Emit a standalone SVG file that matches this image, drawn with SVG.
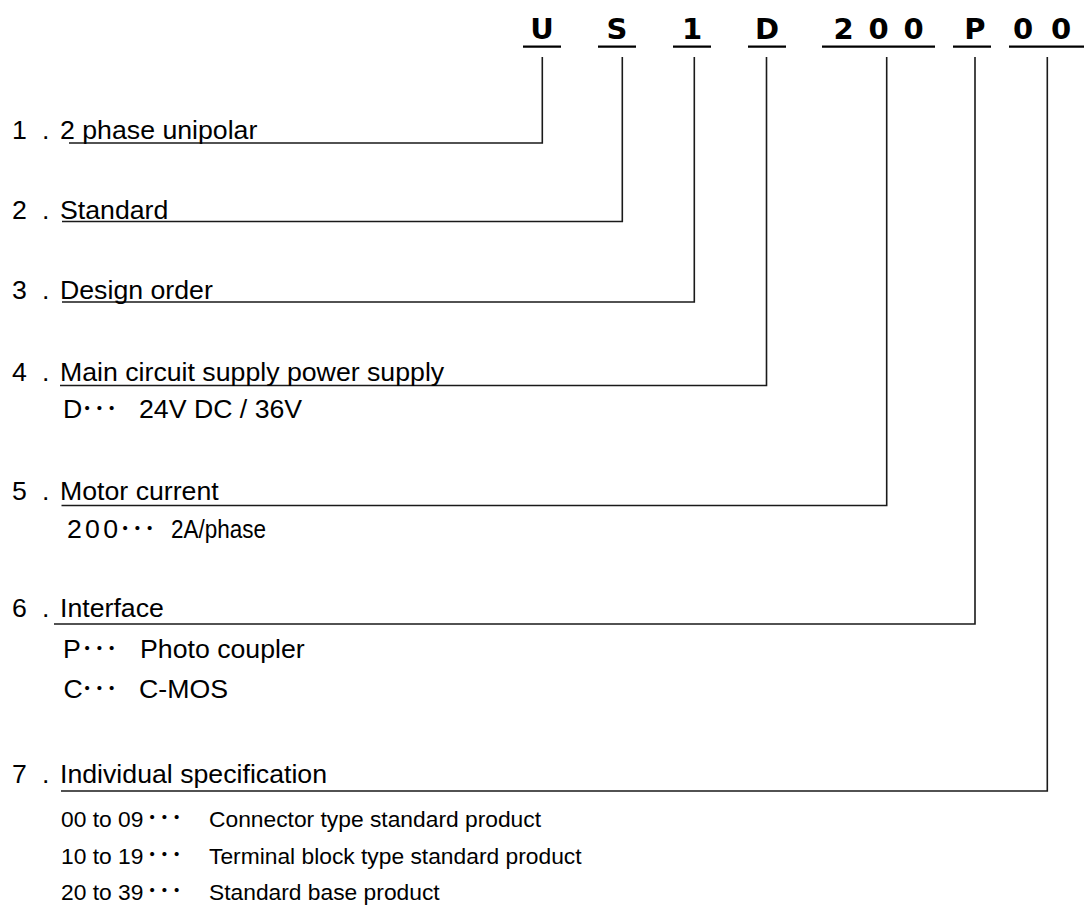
<svg xmlns="http://www.w3.org/2000/svg" width="1084" height="905" viewBox="0 0 1084 905">
<style>
.code{font-family:"DejaVu Sans",sans-serif;font-weight:bold;font-size:29px;fill:#000;text-anchor:middle}
.t{font-family:"Liberation Sans",Arial,sans-serif;font-size:26.7px;fill:#000}
.s{font-family:"Liberation Sans",Arial,sans-serif;font-size:22.8px;fill:#000}
.dots{font-family:"Noto Sans CJK JP",sans-serif;font-size:24.6px;fill:#000}
.ul{stroke:#000;stroke-width:2.2;fill:none}
.ln{stroke:#1a1a1a;stroke-width:1.6;fill:none}
</style>
<rect width="1084" height="905" fill="#fff"/>
<g id="code">
<text class="code" x="542" y="38.5">U</text>
<text class="code" x="617" y="38.5">S</text>
<text class="code" x="692" y="38.5">1</text>
<text class="code" x="767" y="38.5">D</text>
<text class="code" x="843.5" y="38.5">2</text>
<text class="code" x="878.5" y="38.5">0</text>
<text class="code" x="913.5" y="38.5">0</text>
<text class="code" x="975" y="38.5">P</text>
<text class="code" x="1023" y="38.5">0</text>
<text class="code" x="1061" y="38.5">0</text>
<line class="ul" x1="523" y1="46.7" x2="561" y2="46.7"/>
<line class="ul" x1="598" y1="46.7" x2="636" y2="46.7"/>
<line class="ul" x1="673" y1="46.7" x2="711" y2="46.7"/>
<line class="ul" x1="748" y1="46.7" x2="786" y2="46.7"/>
<line class="ul" x1="822" y1="46.7" x2="935" y2="46.7"/>
<line class="ul" x1="953" y1="46.7" x2="991" y2="46.7"/>
<line class="ul" x1="1009" y1="46.7" x2="1084" y2="46.7"/>
</g>
<g id="connectors">
<path class="ln" d="M542.3 57 V143 H69"/>
<path class="ln" d="M622.3 57 V221.5 H62"/>
<path class="ln" d="M694.3 57 V302 H62"/>
<path class="ln" d="M766.5 57 V385.5 H60"/>
<path class="ln" d="M886.7 57 V505.5 H61.5"/>
<path class="ln" d="M975 57 V624 H54"/>
<path class="ln" d="M1047.3 57 V791 H61"/>
</g>
<g id="item1">
<text class="t" x="12" y="139.3">1</text><text class="t" x="42" y="139.3">.</text>
<text class="t" x="60" y="139.3">2 phase unipolar</text>
</g>
<g id="item2">
<text class="t" x="12" y="219">2</text><text class="t" x="42" y="219">.</text>
<text class="t" x="60" y="219">Standard</text>
</g>
<g id="item3">
<text class="t" x="12" y="299">3</text><text class="t" x="42" y="299">.</text>
<text class="t" x="60" y="299">Design order</text>
</g>
<g id="item4">
<text class="t" x="12" y="380.7">4</text><text class="t" x="42" y="380.7">.</text>
<text class="t" x="60" y="380.7">Main circuit supply power supply</text>
<text class="t" x="63" y="418.3">D</text><text class="dots" x="81" y="418.3">･･･</text>
<text class="t" x="139" y="418.3">24V DC / 36V</text>
</g>
<g id="item5">
<text class="t" x="12" y="500">5</text><text class="t" x="42" y="500">.</text>
<text class="t" x="60" y="500">Motor current</text>
<text class="t" x="67" y="538.3" textLength="51" lengthAdjust="spacing">2 0 0</text><text class="dots" x="119" y="538.3">･･･</text>
<text class="t" x="171" y="538.3" textLength="95" lengthAdjust="spacingAndGlyphs">2A/phase</text>
</g>
<g id="item6">
<text class="t" x="12" y="617">6</text><text class="t" x="42" y="617">.</text>
<text class="t" x="60" y="617">Interface</text>
<text class="t" x="63" y="658.3">P</text><text class="dots" x="81" y="658.3">･･･</text>
<text class="t" x="140" y="658.3">Photo coupler</text>
<text class="t" x="63.5" y="698.3">C</text><text class="dots" x="81" y="698.3">･･･</text>
<text class="t" x="139" y="698.3">C-MOS</text>
</g>
<g id="item7">
<text class="t" x="12" y="782.5">7</text><text class="t" x="42" y="782.5">.</text>
<text class="t" x="60" y="782.5">Individual specification</text>
<text class="s" x="61" y="827">00 to 09</text><text class="dots" x="146" y="827">･･･</text>
<text class="s" x="209" y="827">Connector type standard product</text>
<text class="s" x="61" y="863.5">10 to 19</text><text class="dots" x="146" y="863.5">･･･</text>
<text class="s" x="209" y="863.5">Terminal block type standard product</text>
<text class="s" x="61" y="899.5">20 to 39</text><text class="dots" x="146" y="899.5">･･･</text>
<text class="s" x="209" y="899.5">Standard base product</text>
</g>
</svg>
